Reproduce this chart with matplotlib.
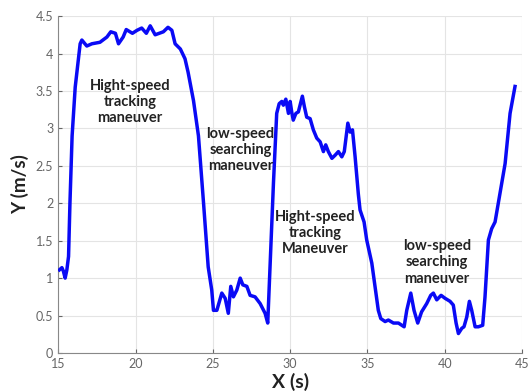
import matplotlib
matplotlib.use("Agg")
import matplotlib.pyplot as plt

# ---- data ----
T = [15.08, 15.24, 15.34, 15.45, 15.56, 15.67, 15.76, 15.9, 16.1, 16.42, 16.53, 16.85,
     17.18, 17.7, 18.15, 18.4, 18.7, 18.9, 19.2, 19.4, 19.8, 20.1, 20.4, 20.7,
     20.95, 21.27, 21.8, 22.1, 22.35, 22.56, 22.9, 23.2, 23.4, 23.75, 24.07, 24.3,
     24.4, 24.7, 24.93, 25.04, 25.26, 25.58, 25.8, 26.0, 26.16, 26.33, 26.55,
     26.77, 26.94, 27.2, 27.41, 27.73, 28.06, 28.38, 28.55, 28.92, 29.13, 29.29,
     29.46, 29.56, 29.72, 29.89, 30.0, 30.1, 30.2, 30.37, 30.53, 30.64, 30.79,
     30.92, 31.07, 31.29, 31.5, 31.72, 31.94, 32.15, 32.3, 32.47, 32.7, 32.9,
     33.12, 33.34, 33.5, 33.73, 33.88, 34.03, 34.2, 34.41, 34.52, 34.78, 34.95,
     35.28, 35.49, 35.7, 35.86, 36.14, 36.35, 36.68, 37.0, 37.37, 37.54, 37.8,
     38.01, 38.25, 38.5, 38.83, 39.09, 39.26, 39.48, 39.76, 40.02, 40.34, 40.55,
     40.73, 40.88, 41.1, 41.24, 41.42, 41.59, 41.74, 41.96, 42.17, 42.45, 42.6,
     42.82, 43.03, 43.25, 43.46, 43.9, 44.22, 44.54]
V = [1.11, 1.14, 1.09, 1.0, 1.11, 1.29, 2.0, 2.9, 3.55, 4.13, 4.18, 4.1,
     4.13, 4.15, 4.22, 4.29, 4.27, 4.13, 4.22, 4.32, 4.27, 4.31, 4.34, 4.27,
     4.37, 4.25, 4.29, 4.35, 4.31, 4.13, 4.06, 3.93, 3.75, 3.37, 2.9, 2.28,
     2.0, 1.15, 0.84, 0.57, 0.57, 0.8, 0.73, 0.53, 0.89, 0.75, 0.84,
     1.0, 0.91, 0.89, 0.77, 0.75, 0.66, 0.53, 0.4, 2.27, 3.2, 3.33,
     3.36, 3.31, 3.39, 3.2, 3.36, 3.22, 3.11, 3.2, 3.22, 3.31, 3.43,
     3.29, 3.15, 3.13, 2.98, 2.87, 2.82, 2.69, 2.78, 2.69, 2.6, 2.64,
     2.69, 2.62, 2.69, 3.07, 2.95, 2.98, 2.62, 2.12, 1.91, 1.75, 1.51,
     1.2, 0.89, 0.57, 0.46, 0.42, 0.44, 0.4, 0.4, 0.35, 0.57, 0.8,
     0.57, 0.4, 0.55, 0.66, 0.77, 0.8, 0.71, 0.77, 0.73, 0.69, 0.64,
     0.4, 0.26, 0.33, 0.35, 0.48, 0.69, 0.57, 0.35, 0.35, 0.37, 0.75,
     1.51, 1.66, 1.75, 2.0, 2.53, 3.2, 3.56]

LABELS = ["Hight-speed\ntracking\nmaneuver", "low-speed\nsearching\nmaneuver",
          "Hight-speed\ntracking\nManeuver", "low-speed\nsearching\nmaneuver"]
LABEL_XY = [(19.65, 3.35), (26.8, 2.71), (31.6, 1.6), (39.5, 1.21)]

plt.rcParams["font.family"] = ["Lato", "DejaVu Sans"]
fig = plt.figure(figsize=(5.29, 3.92), dpi=100)
ax = fig.add_axes([0.110, 0.0995, 0.877, 0.8595])

ax.plot(T, V, color="#0a0af5", lw=2.5, zorder=3)

for txt, (x, y) in zip(LABELS, LABEL_XY):
    ax.text(x, y, txt, ha="center", va="center", fontsize=10.5,
            fontweight="bold", color="#222222", linespacing=1.2)

ax.set_xlim(15, 45)
ax.set_ylim(0, 4.5)
ax.set_xticks([15, 20, 25, 30, 35, 40, 45])
ax.set_yticks([0, 0.5, 1, 1.5, 2, 2.5, 3, 3.5, 4, 4.5])
ax.set_yticklabels(["0", "0.5", "1", "1.5", "2", "2.5", "3", "3.5", "4", "4.5"])
ax.grid(True, color="#e4e4e4", lw=0.8)
ax.set_axisbelow(True)
for s in ("top", "right"):
    ax.spines[s].set_visible(False)
for s in ("left", "bottom"):
    ax.spines[s].set_color("#888888")
ax.tick_params(colors="#666666", labelsize=9, length=3, direction="in")

ax.set_xlabel("X (s)", fontsize=14, fontweight="bold", color="#222222", labelpad=2)
ax.set_ylabel("Y (m/s)", fontsize=13.5, fontweight="bold", color="#222222", labelpad=5)

fig.savefig("out.png", dpi=100)
